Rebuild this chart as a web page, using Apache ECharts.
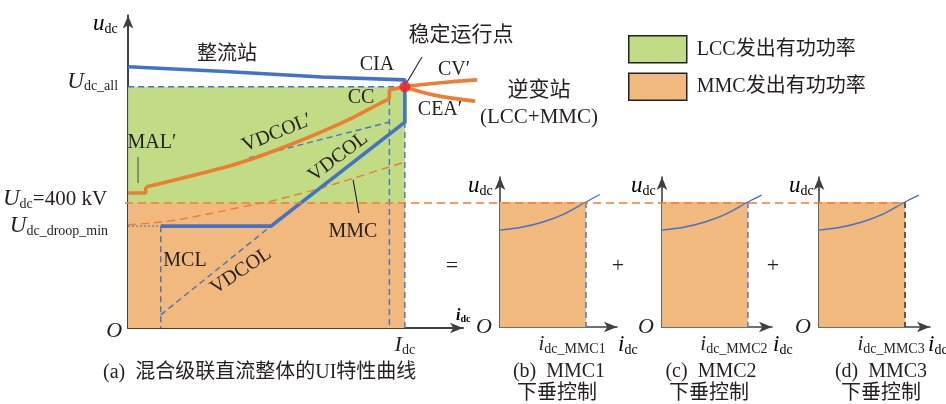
<!DOCTYPE html>
<html><head><meta charset="utf-8">
<script src="https://cdn.jsdelivr.net/npm/echarts@6/dist/echarts.min.js"></script>
<style>html,body{margin:0;padding:0;background:#fff}#c{width:946px;height:404px}</style>
</head><body><div id="c"></div>
<script>
// Main chart units: x = DC current (I_dc = 100), y = DC voltage in kV.
const I_DC = 100;
const U_ALL = 772;
const U_RATED = 400;
const U_DROOP_MIN = 326;

// rectifier characteristic (constant current branch ends at I_dc)
const rectifierCurve = [[0, 836], [35, 821], [70, 803], [100, 794], [100, 772]];
// composite inverter VDCOL / MCL characteristic
const inverterCurve = [[100, 772], [100, 659], [51.6, 326], [11.8, 326]];
// LCC inverter: MAL' step, VDCOL' curve, CC step
const lccMalStep = [[0, 432], [6.4, 432], [6.4, 451]];
const lccVdcol = [[6.4, 451], [19.7, 480], [34, 512], [44.7, 541], [55.5, 576], [67.3, 618], [79.5, 666], [91.3, 720], [94.4, 733]];
const lccCcStep = [[94.4, 733], [94.4, 762], [100, 772]];
const cvBranch = [[100, 772], [112, 784], [126, 794]];
const ceaBranch = [[100, 772], [110.3, 746], [125.3, 726]];
// MMC droop sum (dashed)
const mmcCurve = [[0, 330], [11.8, 339], [19.7, 349], [34, 374], [44.7, 394], [51.6, 406], [67.3, 442], [79.5, 474], [100, 531]];
// auxiliary dashed construction lines
const lccVdcolLimit = [[43.7, 544], [94.4, 659]];
const ccGuide = [[94.4, 733], [94.4, 0]];
const idcGuide = [[100, 659], [100, 0]];
const mclGuide = [[11.8, 326], [11.8, 0]];
const vdcolGuide = [[11.8, 42], [51.6, 326]];
const uAllGuide = [[0, U_ALL], [I_DC, U_ALL]];
const droopMinGuide = [[0, U_DROOP_MIN], [11.8, U_DROOP_MIN]];
const ratedGuide = [[0, U_RATED], [279.3, U_RATED]];
const operatingPoint = [[I_DC, U_ALL]];
// leader lines
const leaderPoint = [[106.3, 867], [101, 787]];
const leaderMmc = [[81.3, 474], [83.4, 368]];
const leaderMal = [[3.6, 547], [3.6, 464]];

// MMC droop curves (x: I_dc_MMCk = 100, y: kV)
const I_MMC = 100;
const mmc1Droop = [[0, 310], [25, 319], [50, 336], [75, 362], [100, 400], [116, 424]];
const mmc2Droop = [[0, 310], [25, 319], [50, 336], [75, 362], [100, 400], [116, 422]];
const mmc3Droop = [[0, 310], [25, 319], [50, 336], [75, 362], [100, 400], [116, 422]];

// tick labels
const uTickValues = [0, U_DROOP_MIN, U_RATED, U_ALL];
const uTickLabels = [
  '{h6|}\n{O|O}',
  '{U|U}{s|dc_droop_min}{g14|}',
  '{U|U}{s|dc}{t|=400 kV}{g15|}\n{h8|}',
  '{U|U}{s|dc_all}{g4|}\n{h10|}'
];
const iTickValues = [I_DC];
const iTickLabels = ['{I|I}{s|dc}'];
const mmcTickLabels = ['{i|i}{s|dc_MMC1}{g28|}', '{i|i}{s|dc_MMC2}{g28|}', '{i|i}{s|dc_MMC3}{g28|}'];

const legendNames = ['LCC发出有功功率', 'MMC发出有功功率'];

const SERIF = "'Liberation Serif','Times New Roman','Noto Sans CJK SC',serif";
const INK = '#231f20';
const BLUE = '#4472c4';
const ORANGE = '#ed7d31';
const GREEN_FILL = '#c2dc85';
const ORANGE_FILL = '#f1b97d';
const AXIS = '#404040';

const rich = {
  U: {fontFamily: SERIF, fontStyle: 'italic', fontSize: 23, color: INK, lineHeight: 24},
  I: {fontFamily: SERIF, fontStyle: 'italic', fontSize: 22, color: INK, lineHeight: 24},
  i: {fontFamily: SERIF, fontStyle: 'italic', fontSize: 21, color: INK, lineHeight: 24},
  O: {fontFamily: SERIF, fontStyle: 'italic', fontSize: 22, color: INK, lineHeight: 24},
  u: {fontFamily: SERIF, fontStyle: 'italic', fontSize: 23, color: INK, lineHeight: 24},
  s: {fontFamily: SERIF, fontSize: 14, color: INK, lineHeight: 10, verticalAlign: 'bottom'},
  t: {fontFamily: SERIF, fontSize: 21, color: INK, lineHeight: 24},
  b: {fontFamily: SERIF, fontStyle: 'italic', fontWeight: 'bold', fontSize: 16, color: INK, lineHeight: 16},
  bs: {fontFamily: SERIF, fontWeight: 'bold', fontSize: 10, color: INK, lineHeight: 8, verticalAlign: 'bottom'},
  g4: {width: 4}, g14: {width: 14}, g15: {width: 15}, g28: {width: 28},
  h6: {height: 6, lineHeight: 6, fontSize: 1}, h8: {height: 8, lineHeight: 8, fontSize: 1}, h10: {height: 10, lineHeight: 10, fontSize: 1}
};

function lookup(values, labels) {
  return v => { const k = values.indexOf(v); return k < 0 ? '' : labels[k]; };
}

function axisLine(width) {
  return {onZero: false, symbol: ['none', 'arrow'], symbolSize: [8, 13], lineStyle: {color: AXIS, width: width}};
}

// grid 0: main UI plane; grids 1-3: MMC droop planes; grid 4: same scale as grid 0, spanning to the right edge
const MAIN_W = 338, MAIN_XMAX = 121;
const grids = [
  {left: 125, top: 15.5, width: MAIN_W, height: 312.5},
  {left: 500, top: 177, width: 117, height: 150},
  {left: 662, top: 177, width: 110, height: 150},
  {left: 819, top: 177, width: 111, height: 150},
  {left: 125, top: 15.5, width: 821, height: 312.5}
];

const xAxes = [
  {gridIndex: 0, type: 'value', min: 0, max: MAIN_XMAX, splitLine: {show: false}, axisLine: axisLine(2), axisTick: {show: false},
   axisLabel: {customValues: iTickValues, formatter: lookup(iTickValues, iTickLabels), margin: 5, rich: rich}}
];
const yAxes = [
  {gridIndex: 0, type: 'value', min: 0, max: 1000, splitLine: {show: false}, axisLine: axisLine(2), axisTick: {show: false},
   axisLabel: {customValues: uTickValues, formatter: lookup(uTickValues, uTickLabels), margin: 6, rich: rich}}
];
const smallXMax = [136, 128, 129];
for (let k = 0; k < 3; k++) {
  xAxes.push({gridIndex: k + 1, type: 'value', min: 0, max: smallXMax[k], splitLine: {show: false}, axisLine: axisLine(1.6), axisTick: {show: false},
    axisLabel: {customValues: [I_MMC], formatter: () => mmcTickLabels[k], margin: 5, rich: rich}});
  yAxes.push({gridIndex: k + 1, type: 'value', min: 0, max: 480, splitLine: {show: false}, axisLine: axisLine(1.6), axisTick: {show: false},
    axisLabel: {customValues: [0], formatter: () => '{O|O}', margin: 8, rich: rich}});
}
xAxes.push({gridIndex: 4, type: 'value', min: 0, max: MAIN_XMAX * 821 / MAIN_W, show: false});
yAxes.push({gridIndex: 4, type: 'value', min: 0, max: 1000, show: false});
const WIDE = 4;

const series = [];
function line(g, data, color, width, opts) {
  series.push(Object.assign({
    type: 'line', xAxisIndex: g, yAxisIndex: g, data: data, symbol: 'none', silent: true, animation: false,
    lineStyle: {color: color, width: width}, z: 4, clip: false
  }, opts || {}));
}
function dashed(g, data, color, width, dash, z) {
  line(g, data, color, width, {lineStyle: {color: color, width: width, type: dash}, z: z || 3});
}
function fill(g, data, color, name) {
  series.push({type: 'line', name: name, xAxisIndex: g, yAxisIndex: g, data: data, symbol: 'none', silent: true, animation: false,
    color: color, itemStyle: {color: color}, lineStyle: {width: 0}, areaStyle: {color: color, opacity: 1}, z: 1});
}

// power regions
fill(0, [[0, U_ALL], [I_DC, U_ALL]], GREEN_FILL, legendNames[0]);
fill(0, [[0, U_RATED], [I_DC, U_RATED]], ORANGE_FILL, legendNames[1]);
fill(1, [[0, U_RATED], [I_MMC, U_RATED]], ORANGE_FILL, 'mmc1');
fill(2, [[0, U_RATED], [I_MMC, U_RATED]], ORANGE_FILL, 'mmc2');
fill(3, [[0, U_RATED], [I_MMC, U_RATED]], ORANGE_FILL, 'mmc3');

// construction lines
dashed(0, uAllGuide, BLUE, 1.4, [6, 4]);
dashed(0, ccGuide, BLUE, 1.4, [6, 4]);
dashed(0, idcGuide, BLUE, 1.4, [6, 4]);
dashed(0, mclGuide, BLUE, 1.4, [6, 4]);
dashed(0, vdcolGuide, BLUE, 1.4, [6, 4]);
dashed(0, lccVdcolLimit, BLUE, 1.4, [6, 4]);
dashed(0, droopMinGuide, '#6a80b8', 1.4, [2, 2]);
line(0, mmcCurve, ORANGE, 1.4, {smooth: 0.3, lineStyle: {color: ORANGE, width: 1.4, type: [8, 5]}, z: 3});
dashed(WIDE, ratedGuide, ORANGE, 1.6, [8, 5], 5);

// leaders
line(WIDE, leaderPoint, INK, 1.1);
line(0, leaderMmc, INK, 1.1);
line(0, leaderMal, '#555', 1.1);

// characteristic curves
line(0, rectifierCurve, BLUE, 3.6);
line(0, inverterCurve, BLUE, 3.6, {lineStyle: {color: BLUE, width: 3.6, join: 'miter'}});
line(0, lccMalStep, ORANGE, 3.6);
line(0, lccVdcol, ORANGE, 3.6, {smooth: 0.3});
line(0, lccCcStep, ORANGE, 3.6);
line(WIDE, cvBranch, ORANGE, 3.6, {smooth: 0.4});
line(WIDE, ceaBranch, ORANGE, 3.6, {smooth: 0.4});
series.push({type: 'scatter', xAxisIndex: 0, yAxisIndex: 0, data: operatingPoint, symbolSize: 11,
  itemStyle: {color: '#e8222a'}, z: 6, silent: true, animation: false});

// MMC droop characteristics
line(1, mmc1Droop, BLUE, 1.4, {smooth: 0.3});
line(2, mmc2Droop, BLUE, 1.4, {smooth: 0.3});
line(3, mmc3Droop, BLUE, 1.4, {smooth: 0.3});
dashed(1, [[I_MMC, U_RATED], [I_MMC, 0]], BLUE, 1.4, [6, 4]);
dashed(2, [[I_MMC, U_RATED], [I_MMC, 0]], BLUE, 1.4, [6, 4]);
dashed(3, [[I_MMC, U_RATED], [I_MMC, 0]], '#222', 1.4, [6, 4]);

// text annotations
const g = [];
function txt(x, y, text, size, extra) {
  g.push(Object.assign({type: 'text', x: x, y: y, z: 100, silent: true,
    style: {text: text, fill: INK, font: size + 'px ' + SERIF, align: 'center', verticalAlign: 'middle'}}, extra || {}));
}
function richTxt(x, y, text, align) {
  g.push({type: 'text', x: x, y: y, z: 100, silent: true,
    style: {text: text, rich: rich, align: align || 'left', verticalAlign: 'middle'}});
}
const deg = Math.PI / 180;
txt(227, 55, '整流站', 20);
txt(377, 65, 'CIA', 20);
txt(461, 35, '稳定运行点', 21);
txt(454, 70, 'CV′', 20);
txt(539, 90, '逆变站', 21);
txt(440, 110, 'CEA′', 20);
txt(539, 117, '(LCC+MMC)', 21);
txt(361, 98, 'CC', 20);
txt(152, 143, 'MAL′', 20);
txt(277, 133, 'VDCOL′', 20, {rotation: 22 * deg});
txt(338, 157, 'VDCOL', 20, {rotation: 37 * deg});
txt(241, 271, 'VDCOL', 20, {rotation: 34 * deg});
txt(185, 261, 'MCL', 20);
txt(353, 232, 'MMC', 20);
txt(452, 266, '=', 22);
txt(618, 266, '+', 22);
txt(773, 266, '+', 22);
g.push({type: 'text', x: 103, y: 373, z: 100, silent: true,
  style: {text: '(a)  混合级联直流整体的UI特性曲线', fill: INK, font: '20px ' + SERIF, align: 'left', verticalAlign: 'middle'}});
txt(559, 372, '(b)  MMC1', 20);
txt(557, 394, '下垂控制', 20);
txt(711, 372, '(c)  MMC2', 20);
txt(709, 394, '下垂控制', 20);
txt(881, 372, '(d)  MMC3', 20);
txt(881, 394, '下垂控制', 20);
// axis names
richTxt(93, 24, '{u|u}{s|dc}');
richTxt(456, 316, '{b|i}{bs|dc}');
richTxt(468, 186, '{u|u}{s|dc}');
richTxt(631, 186, '{u|u}{s|dc}');
richTxt(789, 186, '{u|u}{s|dc}');
richTxt(618, 345, '{u|i}{s|dc}');
richTxt(773, 345, '{u|i}{s|dc}');
richTxt(928, 345, '{u|i}{s|dc}');

const chart = echarts.init(document.getElementById('c'));
chart.setOption({
  backgroundColor: '#fff',
  animation: false,
  grid: grids,
  xAxis: xAxes,
  yAxis: yAxes,
  series: series,
  legend: {
    data: legendNames, orient: 'vertical', left: 628, top: 35, padding: 0, icon: 'rect',
    itemWidth: 58, itemHeight: 27, itemGap: 9, selectedMode: false,
    itemStyle: {borderColor: '#222', borderWidth: 1.5},
    textStyle: {fontFamily: SERIF, fontSize: 20, color: INK, padding: [0, 0, 0, 5]}
  },
  graphic: g
});
</script>
</body></html>
